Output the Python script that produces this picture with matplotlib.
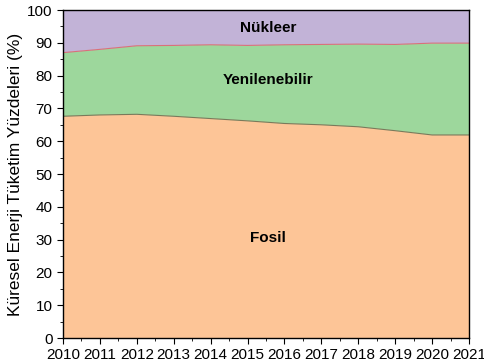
import numpy as np
import matplotlib.pyplot as plt
from matplotlib.ticker import MultipleLocator

plt.rcParams['font.family'] = ['Liberation Sans', 'DejaVu Sans']

years = [2010, 2011, 2012, 2013, 2014, 2015, 2016, 2017, 2018, 2019, 2020, 2021]
fosil = [67.6, 68.0, 68.2, 67.6, 66.9, 66.2, 65.4, 65.0, 64.4, 63.2, 61.9, 61.9]
fosil_yenilenebilir = [87.0, 88.0, 89.1, 89.2, 89.4, 89.2, 89.4, 89.5, 89.6, 89.5, 89.9, 89.9]

yenilenebilir = np.array(fosil_yenilenebilir) - np.array(fosil)
nukleer = 100 - np.array(fosil_yenilenebilir)

fig = plt.figure(figsize=(4.85, 3.6), dpi=100)
ax = fig.add_axes([63 / 485, 22 / 360, 406 / 485, 328 / 360])

ax.stackplot(years, fosil, yenilenebilir, nukleer,
             colors=['#FDC597', '#9DD79C', '#C2B3D7'])
ax.plot(years, fosil, color='#7a7a5a', lw=0.8)
ax.plot(years, fosil_yenilenebilir, color='#d9707a', lw=0.8)

ax.text(2015.55, 94.5, 'Nükleer', ha='center', va='center', fontsize=11, fontweight='bold')
ax.text(2015.55, 78.7, 'Yenilenebilir', ha='center', va='center', fontsize=11, fontweight='bold')
ax.text(2015.55, 30.5, 'Fosil', ha='center', va='center', fontsize=11, fontweight='bold')

ax.set_xlim(2010, 2021)
ax.set_ylim(0, 100)
ax.set_xticks(years)
ax.xaxis.set_minor_locator(MultipleLocator(0.5))
ax.yaxis.set_major_locator(MultipleLocator(10))
ax.yaxis.set_minor_locator(MultipleLocator(5))
ax.tick_params(which='both', direction='out', labelsize=11)
ax.tick_params(which='major', length=4)
ax.tick_params(which='minor', length=2)
ax.set_ylabel('Küresel Enerji Tüketim Yüzdeleri (%)', fontsize=12.5, labelpad=3)
for s in ax.spines.values():
    s.set_linewidth(1.0)

fig.savefig('out.png', dpi=100)
